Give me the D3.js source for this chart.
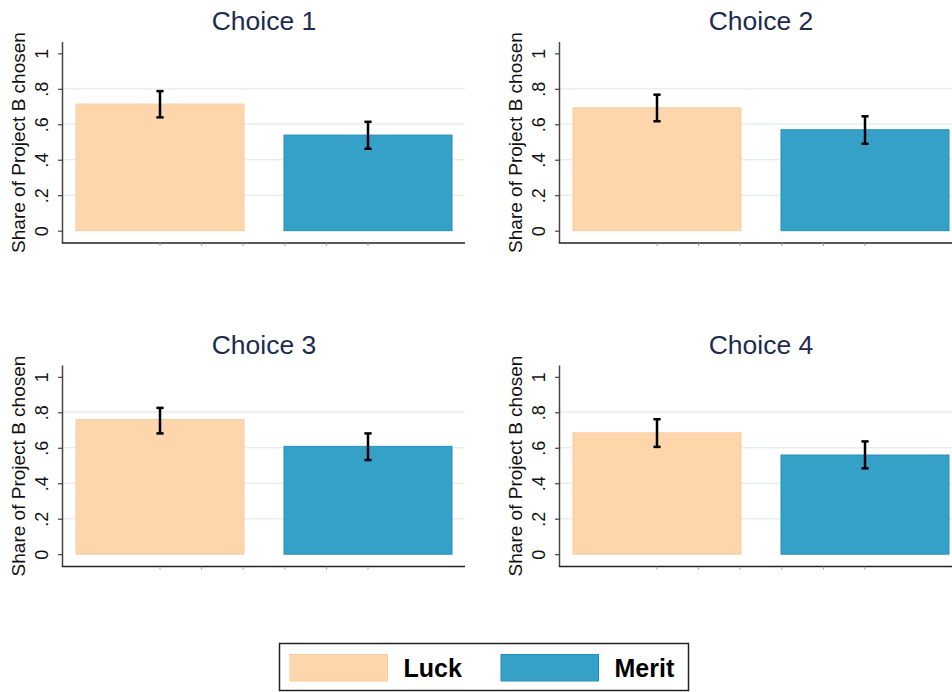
<!DOCTYPE html>
<html>
<head>
<meta charset="utf-8">
<script src="https://cdn.jsdelivr.net/npm/d3@7/dist/d3.min.js"></script>
<style>
  html, body { margin: 0; padding: 0; background: #fff; }
  svg { display: block; font-family: "Liberation Sans", Arial, sans-serif; }
</style>
</head>
<body>
<script>
// ---- data ----
const choices = ["Choice 1", "Choice 2", "Choice 3", "Choice 4"];
const groups = ["Luck", "Merit"];
const luckMean = [0.714, 0.693, 0.759, 0.684];
const luckLo   = [0.639, 0.617, 0.681, 0.605];
const luckHi   = [0.787, 0.767, 0.825, 0.761];
const meritMean = [0.539, 0.569, 0.608, 0.559];
const meritLo   = [0.462, 0.490, 0.531, 0.484];
const meritHi   = [0.614, 0.645, 0.681, 0.636];
const yTicks = [0, 0.2, 0.4, 0.6, 0.8, 1];
const yTickLabels = ["0", ".2", ".4", ".6", ".8", "1"];
const gridTicks = [0.2, 0.4, 0.6, 0.8];
const yLabel = "Share of Project B chosen";

const colors = { Luck: "#fed6ac", Merit: "#35a1c8" };
const strokes = { Luck: "#fccc9c", Merit: "#1f8fbd" };

const W = 952, H = 692;
const svg = d3.select("body").append("svg").attr("width", W).attr("height", H);

const panelX = [63, 560];
const panelY = [42, 365.5];
const pw = 402, ph = 201;
const yDomain = [-0.0695, 1.064];

choices.forEach((title, i) => {
  const px = panelX[i % 2], py = panelY[Math.floor(i / 2)];
  const g = svg.append("g").attr("transform", `translate(${px},${py})`);
  const y = d3.scaleLinear().domain(yDomain).range([ph, 0]);
  const x = d3.scaleBand().domain(groups).range([0, pw]).paddingInner(0.1923).paddingOuter(0.0625);

  // gridlines
  g.selectAll("line.grid").data(gridTicks).join("line")
    .attr("x1", 0).attr("x2", pw)
    .attr("y1", d => y(d)).attr("y2", d => y(d))
    .attr("stroke", "#e6eff3").attr("stroke-width", 1.5);

  const rows = [
    { k: "Luck", m: luckMean[i], lo: luckLo[i], hi: luckHi[i] },
    { k: "Merit", m: meritMean[i], lo: meritLo[i], hi: meritHi[i] }
  ];

  // bars
  g.selectAll("rect.bar").data(rows).join("rect")
    .attr("x", d => x(d.k)).attr("width", x.bandwidth())
    .attr("y", d => y(d.m)).attr("height", d => y(0) - y(d.m))
    .attr("fill", d => colors[d.k]).attr("stroke", d => strokes[d.k]).attr("stroke-width", 1);

  // error bars
  const cw = 3.6;
  rows.forEach(d => {
    const cx = x(d.k) + x.bandwidth() / 2;
    const eg = g.append("g").attr("stroke", "#000").attr("stroke-width", 2.5).attr("fill", "none");
    eg.append("line").attr("x1", cx).attr("x2", cx).attr("y1", y(d.hi)).attr("y2", y(d.lo));
    eg.append("line").attr("x1", cx - cw).attr("x2", cx + cw).attr("y1", y(d.hi)).attr("y2", y(d.hi));
    eg.append("line").attr("x1", cx - cw).attr("x2", cx + cw).attr("y1", y(d.lo)).attr("y2", y(d.lo));
  });

  // y axis
  const ya = g.append("g").call(d3.axisLeft(y).tickValues(yTicks).tickSize(5).tickPadding(4)
    .tickFormat((d, j) => yTickLabels[j]));
  ya.select(".domain").attr("d", `M-0.5,0V${ph}`).attr("stroke", "#444").attr("stroke-width", 1.5);
  ya.selectAll(".tick line").attr("stroke", "#444").attr("stroke-width", 1.2);
  ya.selectAll(".tick text")
    .attr("font-size", 18).attr("fill", "#111")
    .attr("transform", "rotate(-90)")
    .attr("x", 0).attr("y", -15.5).attr("dy", 0)
    .attr("text-anchor", "middle");

  // x axis
  const c0 = x("Luck") + x.bandwidth() / 2, c1 = x("Merit") + x.bandwidth() / 2;
  const xt = d3.range(6).map(k => c0 + k * (c1 - c0) / 5);
  g.append("line").attr("x1", -1.2).attr("x2", pw).attr("y1", ph).attr("y2", ph)
    .attr("stroke", "#222").attr("stroke-width", 1.5);
  g.selectAll("line.xt").data(xt).join("line")
    .attr("x1", d => d).attr("x2", d => d).attr("y1", ph).attr("y2", ph + 3)
    .attr("stroke", "#999").attr("stroke-width", 1);

  // y label
  g.append("text").attr("transform", `translate(-38,${ph / 2}) rotate(-90)`)
    .attr("text-anchor", "middle").attr("font-size", 19).attr("fill", "#111")
    .text(yLabel);

  // title
  g.append("text").attr("x", pw / 2).attr("y", -12)
    .attr("text-anchor", "middle").attr("font-size", 26.5).attr("fill", "#1e2b50")
    .text(title);
});

// legend
const lg = svg.append("g");
lg.append("rect").attr("x", 279.5).attr("y", 643.5).attr("width", 409).attr("height", 47)
  .attr("fill", "#fff").attr("stroke", "#222").attr("stroke-width", 1.5);
const legX = [290, 501];
groups.forEach((k, j) => {
  lg.append("rect").attr("x", legX[j]).attr("y", 654.5).attr("width", 97.5).attr("height", 26.5)
    .attr("fill", colors[k]).attr("stroke", strokes[k]).attr("stroke-width", 1);
  lg.append("text").attr("x", legX[j] + 113.5).attr("y", 676.5)
    .attr("font-size", 25).attr("font-weight", "bold").attr("fill", "#000").text(k);
});
</script>
</body>
</html>
